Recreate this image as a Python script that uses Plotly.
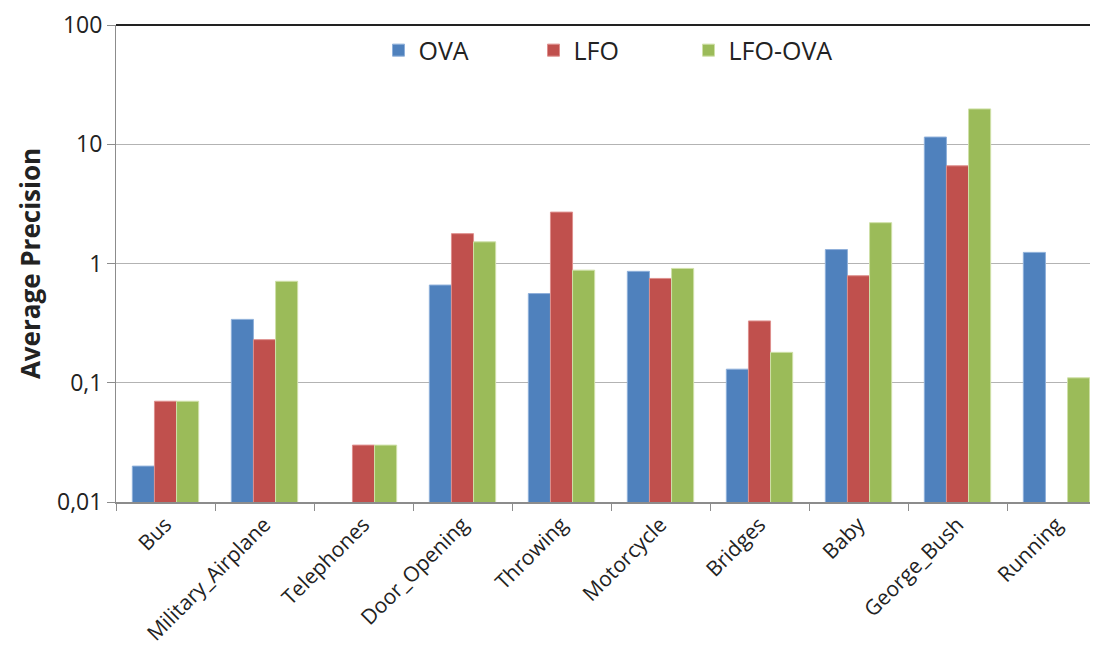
import plotly.graph_objects as go

categories = ["Bus", "Military_Airplane", "Telephones", "Door_Opening", "Throwing",
              "Motorcycle", "Bridges", "Baby", "George_Bush", "Running"]
ova = [0.02, 0.34, None, 0.66, 0.56, 0.86, 0.13, 1.31, 11.5, 1.24]
lfo = [0.07, 0.23, 0.03, 1.78, 2.7, 0.75, 0.33, 0.79, 6.6, None]
lfo_ova = [0.07, 0.71, 0.03, 1.52, 0.88, 0.91, 0.18, 2.2, 19.8, 0.11]

tick_vals = [0.01, 0.1, 1, 10, 100]
tick_text = ["0,01", "0,1", "1", "10", "100"]

series = [("OVA", ova, "#4F81BD", "#8FB0DA"),
          ("LFO", lfo, "#C0504D", "#DE8F8D"),
          ("LFO-OVA", lfo_ova, "#9BBB59", "#CFE0A8")]

fig = go.Figure()
for name, vals, color, edge in series:
    fig.add_trace(go.Bar(
        name=name,
        x=categories,
        y=vals,
        marker=dict(color=color, line=dict(color=edge, width=1)),
    ))

fig.update_layout(
    width=1098,
    height=664,
    barmode='group',
    bargap=0.33,
    bargroupgap=0,
    paper_bgcolor='white',
    plot_bgcolor='white',
    font=dict(family='Open Sans', color='#222222'),
    margin=dict(l=108, r=0, t=10, b=170),
    xaxis=dict(
        type='category',
        showgrid=False,
        showline=True,
        linecolor='#8C8C8C',
        linewidth=2,
        ticks='outside',
        tickson='boundaries',
        ticklen=7,
        tickcolor='#8C8C8C',
        tickangle=-45,
        tickfont=dict(size=21, color='#222222'),
    ),
    yaxis=dict(
        type='log',
        range=[-2, 2.0005],
        tickvals=tick_vals,
        ticktext=tick_text,
        ticklabeloverflow='allow',
        showgrid=True,
        gridcolor='#B3B3B3',
        gridwidth=1,
        showline=True,
        linecolor='#8C8C8C',
        linewidth=1,
        ticks='outside',
        ticklen=8,
        tickcolor='#8C8C8C',
        tickfont=dict(size=23, color='#222222'),
        title=dict(text='<b>Average Precision</b>', font=dict(size=26, color='#222222'), standoff=8),
    ),
    legend=dict(
        orientation='h',
        x=0.5,
        xanchor='center',
        y=0.995,
        yanchor='top',
        font=dict(size=25, color='#222222'),
        entrywidth=110,
        bgcolor='rgba(0,0,0,0)',
    ),
    shapes=[dict(type='line', xref='paper', yref='paper', x0=0, x1=1, y0=1, y1=1,
                 line=dict(color='#222222', width=2))],
)

fig.write_html("out.html")
